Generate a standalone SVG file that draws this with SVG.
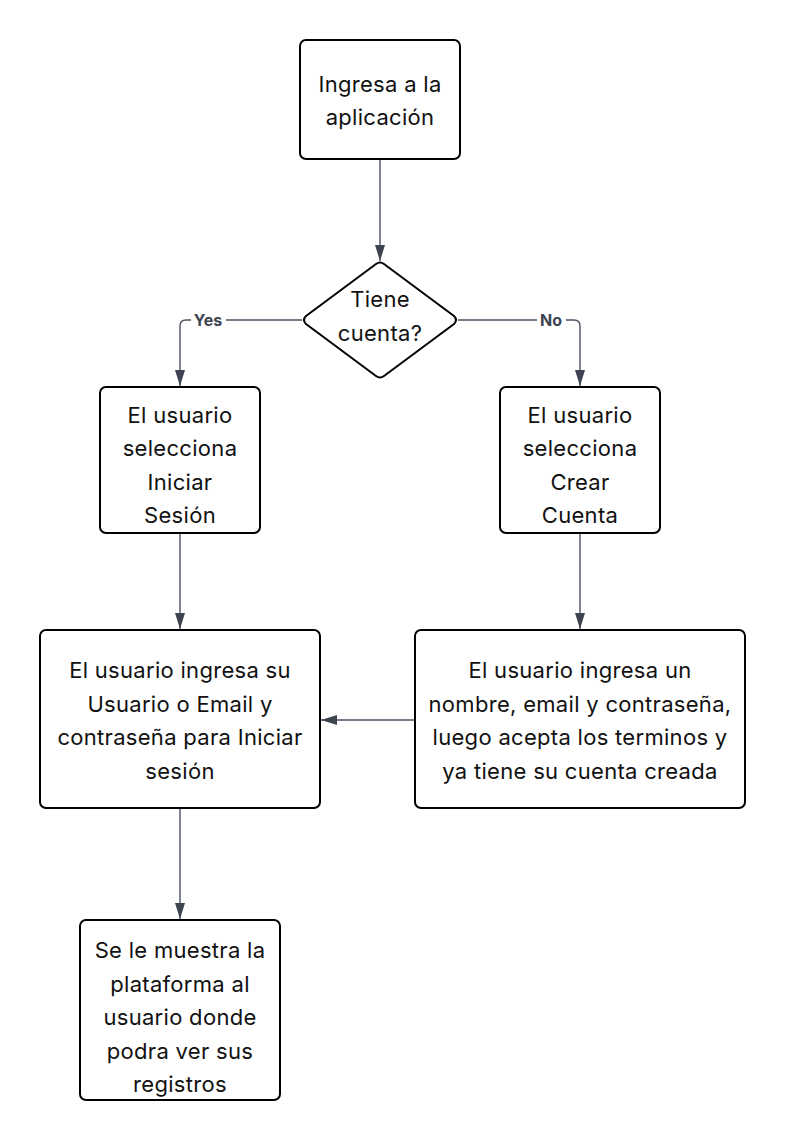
<svg xmlns="http://www.w3.org/2000/svg" width="785" height="1140" viewBox="0 0 785 1140">
  <defs>
    <marker id="arrow" viewBox="0 0 16 12" refX="16" refY="6" markerWidth="16" markerHeight="12" markerUnits="userSpaceOnUse" orient="auto">
      <path d="M0,1 L16,6 L0,11 Z" fill="#3d4450"/>
    </marker>
    <style>
      .box { fill: #ffffff; stroke: #000000; stroke-width: 2; }
      .txt { font-family: Inter, "Liberation Sans", sans-serif; font-size: 22px; letter-spacing: 0.3px; fill: #111111; text-anchor: middle; }
      .edge { fill: none; stroke: #4a5260; stroke-width: 1.4; marker-end: url(#arrow); }
      .lbl { font-family: Inter, "Liberation Sans", sans-serif; font-size: 16px; font-weight: bold; fill: #3d4450; text-anchor: middle; }
      .lblbg { fill: #ffffff; }
    </style>
  </defs>
  <rect width="785" height="1140" fill="#ffffff"/>

  <g id="connectors">
    <path class="edge" d="M380,159 L380,261"/>
    <path class="edge" d="M302,320 L186,320 Q180,320 180,326 L180,386"/>
    <path class="edge" d="M458,320 L574,320 Q580,320 580,326 L580,386"/>
    <path class="edge" d="M180,533 L180,629"/>
    <path class="edge" d="M580,533 L580,629"/>
    <path class="edge" d="M415,720 L321,720"/>
    <path class="edge" d="M180,808 L180,919"/>
    <rect class="lblbg" x="191" y="311" width="35" height="18"/>
    <text class="lbl" x="208" y="326">Yes</text>
    <rect class="lblbg" x="537" y="311" width="29" height="18"/>
    <text class="lbl" x="551" y="326">No</text>
  </g>

  <g id="start">
    <rect class="box" x="300" y="40" width="160" height="119" rx="6"/>
    <text class="txt" x="380" y="92">Ingresa a la</text>
    <text class="txt" x="380" y="125">aplicación</text>
  </g>

  <g id="decision">
    <path class="box" stroke-linejoin="round" d="M376,264 Q380,261 384,264 L454,316 Q458,320 454,324 L384,376 Q380,379 376,376 L306,324 Q302,320 306,316 Z"/>
    <text class="txt" x="380" y="307">Tiene</text>
    <text class="txt" x="380" y="341">cuenta?</text>
  </g>

  <g id="login-select">
    <rect class="box" x="100" y="387" width="160" height="146" rx="6"/>
    <text class="txt" x="180" y="423">El usuario</text>
    <text class="txt" x="180" y="456">selecciona</text>
    <text class="txt" x="180" y="490">Iniciar</text>
    <text class="txt" x="180" y="523">Sesión</text>
  </g>

  <g id="signup-select">
    <rect class="box" x="500" y="387" width="160" height="146" rx="6"/>
    <text class="txt" x="580" y="423">El usuario</text>
    <text class="txt" x="580" y="456">selecciona</text>
    <text class="txt" x="580" y="490">Crear</text>
    <text class="txt" x="580" y="523">Cuenta</text>
  </g>

  <g id="login-form">
    <rect class="box" x="40" y="630" width="280" height="178" rx="6"/>
    <text class="txt" x="180" y="678">El usuario ingresa su</text>
    <text class="txt" x="180" y="712">Usuario o Email y</text>
    <text class="txt" x="180" y="745">contraseña para Iniciar</text>
    <text class="txt" x="180" y="779">sesión</text>
  </g>

  <g id="signup-form">
    <rect class="box" x="415" y="630" width="330" height="178" rx="6"/>
    <text class="txt" x="580" y="678">El usuario ingresa un</text>
    <text class="txt" x="580" y="712">nombre, email y contraseña,</text>
    <text class="txt" x="580" y="745">luego acepta los terminos y</text>
    <text class="txt" x="580" y="779">ya tiene su cuenta creada</text>
  </g>

  <g id="platform">
    <rect class="box" x="80" y="920" width="200" height="180" rx="6"/>
    <text class="txt" x="180" y="958">Se le muestra la</text>
    <text class="txt" x="180" y="992">plataforma al</text>
    <text class="txt" x="180" y="1025">usuario donde</text>
    <text class="txt" x="180" y="1059">podra ver sus</text>
    <text class="txt" x="180" y="1092">registros</text>
  </g>
</svg>
